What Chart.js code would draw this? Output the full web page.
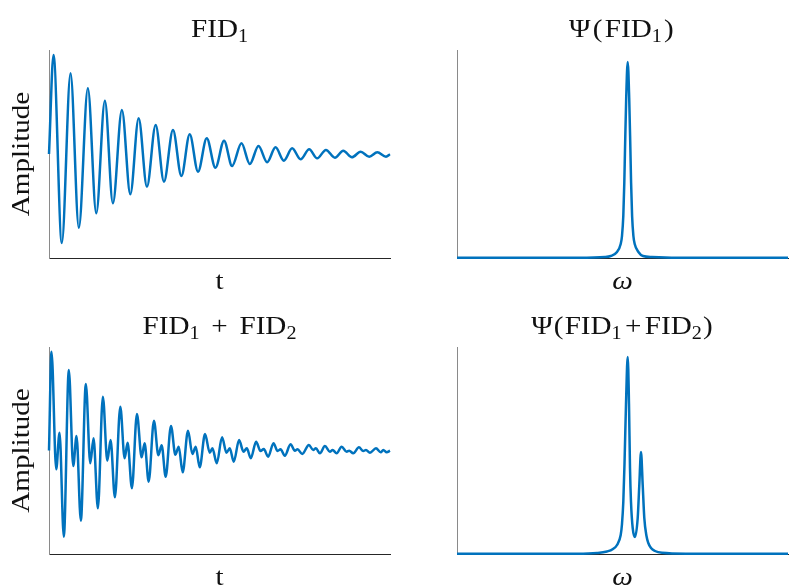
<!DOCTYPE html>
<html><head><meta charset="utf-8">
<script src="https://cdn.jsdelivr.net/npm/chart.js@4/dist/chart.umd.min.js"></script>
<style>
html,body{margin:0;padding:0;background:#fff;}
#wrap{position:relative;width:789px;height:588px;background:#fff;}
#wrap canvas{position:absolute;left:0;top:0;}
</style></head><body>
<div id="wrap">
<canvas id="c1" width="789" height="588"></canvas>
<canvas id="c2" width="789" height="588"></canvas>
<canvas id="c3" width="789" height="588"></canvas>
<canvas id="c4" width="789" height="588"></canvas>
</div>
<script>
// ---- FID1 (time signal): extrema ----
const fid1Time = [0,4.5,12.8,21.5,29.8,38.8,47.2,55.8,63.8,72.8,81.2,89.5,97.8,106.5,114.8,123.8,132.2,140.5,148.8,157.5,166.2,174.8,182.8,192.2,200.5,209.2,217.8,226.2,234.5,242.8,251.2,259.8,267.8,276.5,285.5,293.8,302.5,311.2,319.8,327.8,336.5,340.5];
const fid1Amp  = [0,99,-89,80.7,-73.7,65.7,-59.3,53.3,-49.3,44,-40.3,35.7,-32.7,29,-27.7,24,-22,19.7,-17.7,15.7,-13.7,13.3,-12,10.7,-10,8,-8.3,6.7,-6.7,5.7,-5.3,4.7,-4.3,4,-3.7,3.3,-3.3,2.3,-2.7,1.7,-2.7,-0.3];

// ---- FID1 + FID2 (time signal) ----
const sumTime = [0,2.5,
  7.2,10.5,14.8,19.8, 24.2,27.5,31.8,36.8, 41.2,44.5,48.8,53.8, 58.2,61.5,65.8,71.2,
  75.5,78.5,82.8,87.8, 92.5,95.5,99.5,104.8, 109.2,112.5,116.5,121.8, 126.2,129.5,133.5,138.8,
  143.2,146.5,150.5,155.8, 160.5,163.2,167.5,172.8, 177.2,180.5,184.5,189.8, 194.2,197.5,201.5,206.8,
  211.2,214.5,218.8,224.2, 228.2,231.2,235.5,241.2, 245.5,248.2,252.8,259.5, 263.8,266.5,270.5,275.5,
  280.5,283.2,287.2,292.2, 297.2,299.8,303.8,309.5, 313.8,316.5,320.5,326.5, 331.2,333.8,337.2, 340.5];
const sumAmp = [0,98.8,
  -18.8,17.8,-86.2,80.5, -15.5,14.5,-70.2,66.5, -12.8,12.2,-57.8,53.8, -10.2,10.5,-46.8,43.8,
  -7.8,7.8,-37.8,36.5, -6.8,7.2,-31.2,29.8, -4.8,5.2,-26.2,24.5, -4.2,3.8,-21.8,19.8,
  -3.5,3.8,-16.8,16.5, -2.2,2.2,-12.8,13.2, -2.2,2.2,-11.2,10.5, -1.2,2.2,-7.8,8.8,
  -0.5,1.5,-6.2,7.2, -0.5,1.2,-5.2,6.2, -0.2,1.2,-3.5,5.5, 0.5,2.2,-2.8,4.5,
  -1.2,0.5,-2.8,3.8, -1.2,-0.2,-2.8,3.2, -0.5,0.5,-2.2,2.2, -1.8,0.5,-1.8, -0.2];

// ---- Spectrum of FID1 ----
const spec1Omega = [0,120,148,153.7,160,163.7,165,166.3,167.3,168,169.2,170.7,172.2,173.4,174.1,175.1,176.4,177.7,181.4,186,195,220,331];
const spec1Mag   = [0.2,0.3,1,2,6,14,22,42,75,108,160,196,160,108,75,42,22,14,6,2,1,0.3,0.2];

// ---- Spectrum of FID1 + FID2 ----
const spec2Omega = [0,120,140,150,156,160,163.7,165,166.3,167.5,169,170.7,172,173,174,175.7,178,180.7,182.3,184,185.7,187.3,189.5,191.3,194,198,205,230,331];
const spec2Mag   = [0.2,0.3,1,2.5,5,9,19,30,52,90,150,197,150,86,52,26,17,36,69,102,69,36,18,11,6,3,1.2,0.3,0.2];

// ---- Texts ----
const titles = [
  [{t:'FID'},{t:'1',sub:true}],
  [{t:'\u03A8'},{t:'(',pad:2},{t:'FID'},{t:'1',sub:true},{t:')',pad:2}],
  [{t:'FID'},{t:'1',sub:true},{t:' + ',pad:4},{t:'FID'},{t:'2',sub:true}],
  [{t:'\u03A8'},{t:'(',pad:1},{t:'FID'},{t:'1',sub:true},{t:'+',pad:3},{t:'FID'},{t:'2',sub:true},{t:')',pad:1}]
];
const xLabels = ['t','\u03C9','t','\u03C9'];
const xLabelItalic = [false,true,false,true];
const yLabels = ['Amplitude','','Amplitude',''];

const FAM = "'Liberation Serif','DejaVu Serif',serif";
const LINE = '#0072BD';
const FS = 26;
const SX = 1.12;

function drawRich(ctx, parts, cx, baseY, size) {
  const sub = Math.round(size*0.7);
  const ws = parts.map(p => { ctx.font = (p.sub?sub:size)+'px '+FAM; return ctx.measureText(p.t).width + 2*(p.pad||0); });
  const total = ws.reduce((a,b)=>a+b,0);
  ctx.save();
  ctx.translate(cx, baseY);
  ctx.scale(SX, 1);
  let x = -total/2;
  ctx.textAlign = 'left'; ctx.textBaseline = 'alphabetic';
  parts.forEach((p,i) => {
    ctx.font = (p.sub?sub:size)+'px '+FAM;
    ctx.fillText(p.t, x + (p.pad||0), (p.sub? size*0.18 : 0));
    x += ws[i];
  });
  ctx.restore();
}

function makeChart(id, idx, pad, xs, ys, xMin, xMax, yMin, yMax) {
  const labelPlugin = {
    id: 'labels'+idx,
    afterDraw(chart) {
      const ctx = chart.ctx, a = chart.chartArea;
      ctx.save();
      ctx.fillStyle = '#111';
      const cx = (a.left + a.right)/2;
      drawRich(ctx, titles[idx], cx, a.top - 13, FS);
      ctx.save();
      ctx.translate(cx, a.bottom + 31);
      ctx.scale(SX, 1);
      ctx.font = (xLabelItalic[idx]?'italic ':'') + FS + 'px ' + FAM;
      ctx.textAlign = 'center'; ctx.textBaseline = 'alphabetic';
      ctx.fillText(xLabels[idx], 0, 0);
      ctx.restore();
      if (yLabels[idx]) {
        ctx.translate(a.left - 27, (a.top + a.bottom)/2);
        ctx.rotate(-Math.PI/2);
        ctx.scale(SX, 1);
        ctx.font = FS + 'px ' + FAM;
        ctx.textAlign = 'center'; ctx.textBaseline = 'middle';
        ctx.fillText(yLabels[idx], 0, 0);
      }
      ctx.restore();
    }
  };
  return new Chart(document.getElementById(id), {
    type: 'line',
    data: { datasets: [{
      data: xs.map((x,i) => ({x: x, y: ys[i]})),
      borderColor: LINE, borderWidth: 2.5, pointRadius: 0,
      cubicInterpolationMode: 'monotone', fill: false, clip: false
    }]},
    options: {
      responsive: false, animation: false, devicePixelRatio: 1,
      layout: { padding: pad },
      plugins: { legend: {display:false}, tooltip: {enabled:false}, title: {display:false} },
      scales: {
        x: { type:'linear', min:xMin, max:xMax,
             ticks:{display:false}, grid:{display:false, drawTicks:false},
             border:{display:true, color:'#262626', width:1},
             afterFit(s){ s.height = 0; } },
        y: { type:'linear', min:yMin, max:yMax,
             ticks:{display:false}, grid:{display:false, drawTicks:false},
             border:{display:true, color:'#8a8a8a', width:1},
             afterFit(s){ s.width = 0; } }
      }
    },
    plugins: [labelPlugin]
  });
}

makeChart('c1', 0, {left:49, top:50, right:399, bottom:330}, fid1Time, fid1Amp, 0, 340.5, -104, 104);
makeChart('c2', 1, {left:457, top:50, right:1, bottom:330}, spec1Omega, spec1Mag, 0, 331, 0, 208);
makeChart('c3', 2, {left:49, top:347, right:399, bottom:34}, sumTime, sumAmp, 0, 340.5, -103.5, 103.5);
makeChart('c4', 3, {left:457, top:347, right:1, bottom:34}, spec2Omega, spec2Mag, 0, 331, 0, 207);
</script>
</body></html>
